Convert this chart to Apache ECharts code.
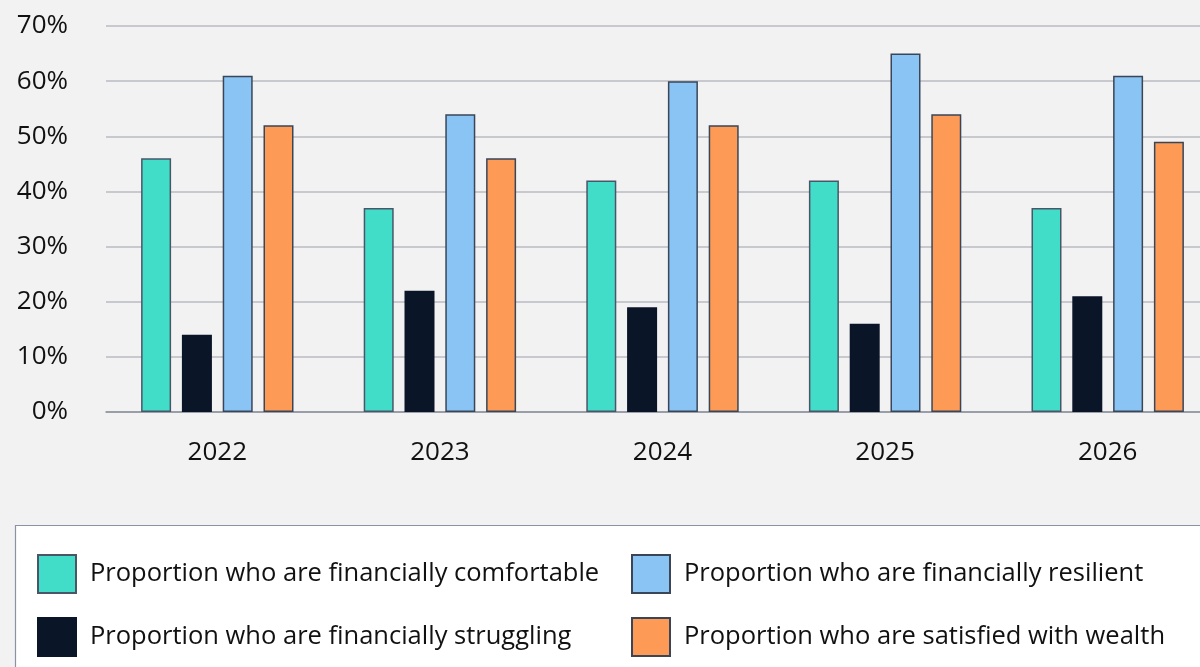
<!DOCTYPE html>
<html>
<head>
<meta charset="utf-8">
<title>Financial wellbeing 2022–2026</title>
<script src="https://cdn.jsdelivr.net/npm/echarts@6/dist/echarts.min.js"></script>
<style>
  html, body { margin: 0; padding: 0; background: #f2f2f2; }
  #chart { width: 1200px; height: 667px; }
</style>
</head>
<body>
<div id="chart"></div>
<script>
// Survey years shown on the category axis
const years = ['2022', '2023', '2024', '2025', '2026'];

// Share of respondents (%) per year
const comfortable = [46, 37, 42, 42, 37];
const struggling  = [14, 22, 19, 16, 21];
const resilient   = [61, 54, 60, 65, 61];
const satisfied   = [52, 46, 52, 54, 49];

// Series names, used by bars and legend
const nameComfortable = 'Proportion who are financially comfortable';
const nameStruggling  = 'Proportion who are financially struggling';
const nameResilient   = 'Proportion who are financially resilient';
const nameSatisfied   = 'Proportion who are satisfied with wealth';

const FONT = 'Open Sans';
const TEXT = '#111111';
const SIZE = 26;

function barSeries(name, data, color, border) {
  return {
    name: name,
    type: 'bar',
    data: data,
    barWidth: 30,
    barGap: '36%',
    itemStyle: { color: color, borderColor: border, borderWidth: 1.5 },
    emphasis: { disabled: true }
  };
}

function legendColumn(left, names) {
  return {
    orient: 'vertical',
    left: left, top: 554,
    padding: 0,
    itemWidth: 38, itemHeight: 38, itemGap: 23,
    icon: 'rect',
    selectedMode: false,
    textStyle: { fontFamily: FONT, fontSize: 25.5, color: TEXT, padding: [0, 0, 0, 9] },
    data: names
  };
}

const chart = echarts.init(document.getElementById('chart'), null, { renderer: 'canvas' });

chart.setOption({
  backgroundColor: '#f2f2f2',
  animation: false,
  textStyle: { fontFamily: FONT, color: TEXT },
  // plot area runs past the right edge so the last group sits close to it
  grid: { left: 106, top: 26, bottom: 255, width: 1113, containLabel: false, outerBoundsMode: 'none' },
  graphic: [{
    type: 'rect',
    z: -1,
    shape: { x: 15.5, y: 525.5, width: 1220, height: 200 },
    style: { fill: '#ffffff', stroke: '#8a93a3', lineWidth: 1.2 }
  }],
  legend: [
    legendColumn(37, [nameComfortable, nameStruggling]),
    legendColumn(631, [nameResilient, nameSatisfied])
  ],
  xAxis: {
    type: 'category',
    data: years,
    axisTick: { show: false },
    axisLine: { lineStyle: { color: '#8a909c', width: 1.5 } },
    axisLabel: { fontFamily: FONT, fontSize: SIZE, color: TEXT, margin: 28 }
  },
  yAxis: {
    type: 'value',
    min: 0, max: 70, interval: 10,
    axisLine: { show: false },
    axisTick: { show: false },
    splitLine: { lineStyle: { color: '#b9bbc2', width: 1.5 } },
    axisLabel: { fontFamily: FONT, fontSize: SIZE, color: TEXT, margin: 38, formatter: '{value}%' }
  },
  series: [
    barSeries(nameComfortable, comfortable, '#41ddc8', '#4a5668'),
    barSeries(nameStruggling,  struggling,  '#0b1528', '#0b1528'),
    barSeries(nameResilient,   resilient,   '#89c4f5', '#3a4658'),
    barSeries(nameSatisfied,   satisfied,   '#fd9a55', '#3a4658')
  ]
});
</script>
</body>
</html>
